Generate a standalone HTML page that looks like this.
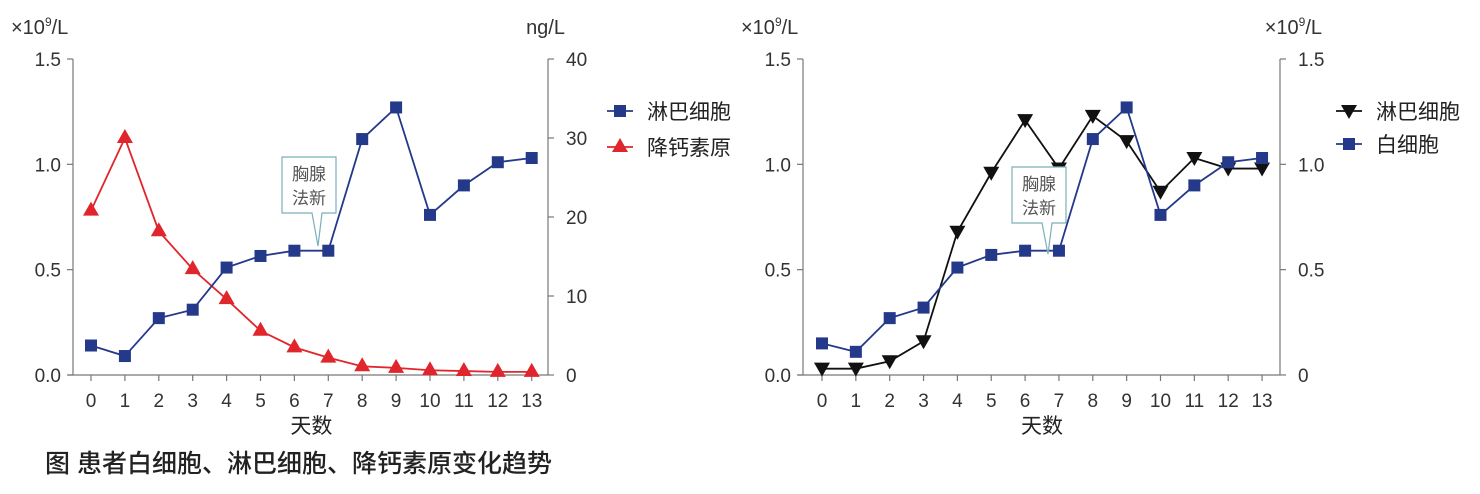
<!DOCTYPE html>
<html><head><meta charset="utf-8">
<style>
html,body{margin:0;padding:0;background:#fff;}
svg{display:block;font-family:"Liberation Sans","Noto Sans CJK SC",sans-serif;}
</style></head>
<body>
<svg id="chart" width="1480" height="494" viewBox="0 0 1480 494" xmlns="http://www.w3.org/2000/svg">
<text x="45" y="472" font-size="25" font-weight="500" fill="#222">图 患者白细胞、淋巴细胞、降钙素原变化趋势</text>
</svg>
<script>
const days = [0,1,2,3,4,5,6,7,8,9,10,11,12,13];
const leftTicks = ["0.0","0.5","1.0","1.5"];
const pctTicks = ["0","10","20","30","40"];
const rightTicks = ["0","0.5","1.0","1.5"];
const lymphLeft = [0.14,0.09,0.27,0.31,0.51,0.565,0.59,0.59,1.12,1.27,0.76,0.90,1.01,1.03];
const pct = [20.8,30,18.2,13.4,9.6,5.6,3.5,2.2,1.1,0.9,0.6,0.5,0.4,0.4];
const lymphRight = [0.03,0.03,0.065,0.16,0.68,0.96,1.21,0.98,1.23,1.11,0.87,1.03,0.98,0.98];
const wbcRight = [0.15,0.11,0.27,0.32,0.51,0.57,0.59,0.59,1.12,1.27,0.76,0.90,1.01,1.03];

const svg = document.getElementById('chart');
const NS = 'http://www.w3.org/2000/svg';
function mk(tag, attrs, parent){
  const e = document.createElementNS(NS, tag);
  for (const k in attrs) e.setAttribute(k, attrs[k]);
  (parent||svg).appendChild(e);
  return e;
}
const Y0 = 375, Y1 = 59;
function yv(v, max){ return Y0 - v/max*(Y0-Y1); }

function axes(g, ax, axR, x0, step, leftLabels, leftMax, rightLabels, rightMax, leftUnit, rightUnit, rightUnitX){
  const axisCol = '#777';
  let l = mk('line',{x1:ax,y1:Y1,x2:ax,y2:Y0,stroke:axisCol,'stroke-width':1.2},g);
  
  
  l = mk('line',{x1:axR,y1:Y1,x2:axR,y2:Y0,stroke:axisCol,'stroke-width':1.2},g);
  
  
  l = mk('line',{x1:ax-5,y1:Y0,x2:axR,y2:Y0,stroke:axisCol,'stroke-width':1.2},g);
  
  
  leftLabels.forEach((t,i)=>{
    const v = i*leftMax/(leftLabels.length-1), y = yv(v,leftMax);
    mk('line',{x1:ax-6,y1:y,x2:ax,y2:y,stroke:axisCol,'stroke-width':1.2},g);
    const tx = mk('text',{x:ax-12,y:y+7,'font-size':19,'text-anchor':'end',fill:'#333'},g);
    tx.textContent = t;
    
    
  });
  rightLabels.forEach((t,i)=>{
    const v = i*rightMax/(rightLabels.length-1), y = yv(v,rightMax);
    mk('line',{x1:axR,y1:y,x2:axR+6,y2:y,stroke:axisCol,'stroke-width':1.2},g);
    const tx = mk('text',{x:axR+18,y:y+7,'font-size':19,'text-anchor':'start',fill:'#333'},g);
    tx.textContent = t;
    
    
  });
  days.forEach((d,i)=>{
    const x = x0 + i*step;
    mk('line',{x1:x,y1:Y0,x2:x,y2:Y0+6,stroke:axisCol,'stroke-width':1.2},g);
    const tx = mk('text',{x:x,y:Y0+32,'font-size':19,'text-anchor':'middle',fill:'#333'},g);
    tx.textContent = d;
    
    
  });
  let t = mk('text',{x:x0+6.5*step,y:433,'font-size':21,'text-anchor':'middle',fill:'#222'},g);
  t.textContent = '天数';
  
  
  t = mk('text',{x:ax-62,y:34,'font-size':20,fill:'#333'},g);
  t.innerHTML = leftUnit;
  
  
  t = mk('text',{x:rightUnitX,y:34,'font-size':20,'text-anchor':'end',fill:'#333'},g);
  t.innerHTML = rightUnit;
  
  
}
function series(g, x0, step, vals, max, color, marker, name){
  const pts = vals.map((v,i)=>[x0+i*step, yv(v,max)]);
  const pl = mk('polyline',{points:pts.map(p=>p.join(',')).join(' '),fill:'none',stroke:color,'stroke-width':1.8},g);
  
  
  pts.forEach(p=>{
    let m;
    if(marker==='sq') m = mk('rect',{x:p[0]-6,y:p[1]-6,width:12,height:12,fill:color},g);
    else if(marker==='up') m = mk('polygon',{points:`${p[0]},${p[1]-9} ${p[0]-8},${p[1]+5} ${p[0]+8},${p[1]+5}`,fill:color},g);
    else m = mk('polygon',{points:`${p[0]-8},${p[1]-6} ${p[0]+8},${p[1]-6} ${p[0]},${p[1]+8}`,fill:color},g);
    
    
  });
}
function legend(g, x, y, color, marker, label){
  mk('line',{x1:x,y1:y,x2:x+26,y2:y,stroke:color,'stroke-width':1.8},g);
  const c = x+13;
  if(marker==='sq') mk('rect',{x:c-6,y:y-6,width:12,height:12,fill:color},g);
  else if(marker==='up') mk('polygon',{points:`${c},${y-9} ${c-8},${y+5} ${c+8},${y+5}`,fill:color},g);
  else mk('polygon',{points:`${c-8},${y-6} ${c+8},${y-6} ${c},${y+8}`,fill:color},g);
  const t = mk('text',{x:x+40,y:y+8,'font-size':21,fill:'#222'},g);
  t.textContent = label;
}
function callout(g, x, y, tipX, tipY){
  const w=54,h=56;
  const d = `M${x},${y} h${w} v${h} h-14 L${tipX},${tipY} L${x+w-24},${y+h} H${x} Z`;
  mk('path',{d:d,fill:'#fff',stroke:'#7ab0b8','stroke-width':1.2},g);
  let t = mk('text',{x:x+w/2,y:y+23,'font-size':17,'text-anchor':'middle',fill:'#555'},g);
  t.textContent='胸腺';
  t = mk('text',{x:x+w/2,y:y+47,'font-size':17,'text-anchor':'middle',fill:'#555'},g);
  t.textContent='法新';
}

const BLUE='#24398a', RED='#e0262c', BLACK='#111';
const U = '×10<tspan dy="-8" font-size="12">9</tspan><tspan dy="8">/L</tspan>';
const gL = mk('g',{});


const xL0=91, sL=33.9;
axes(gL,73,548,xL0,sL,leftTicks,1.5,pctTicks,40,U,'ng/L',565);
series(gL,xL0,sL,pct,40,RED,'up','procalcitonin');
series(gL,xL0,sL,lymphLeft,1.5,BLUE,'sq','lymphocyte');
callout(gL,282,157,318,246);
const lg1 = mk('g',{},gL);


legend(lg1,607,111,BLUE,'sq','淋巴细胞');
legend(lg1,607,147,RED,'up','降钙素原');

const gR = mk('g',{});


const xR0=822, sR=33.85;
axes(gR,803,1280,xR0,sR,leftTicks,1.5,rightTicks,1.5,U,U,1322);
series(gR,xR0,sR,lymphRight,1.5,BLACK,'down','lymphocyte-right');
series(gR,xR0,sR,wbcRight,1.5,BLUE,'sq','wbc');
callout(gR,1012,167,1048,254);
const lg2 = mk('g',{},gR);


legend(lg2,1336,111,BLACK,'down','淋巴细胞');
legend(lg2,1336,144,BLUE,'sq','白细胞');
</script>
</body></html>
